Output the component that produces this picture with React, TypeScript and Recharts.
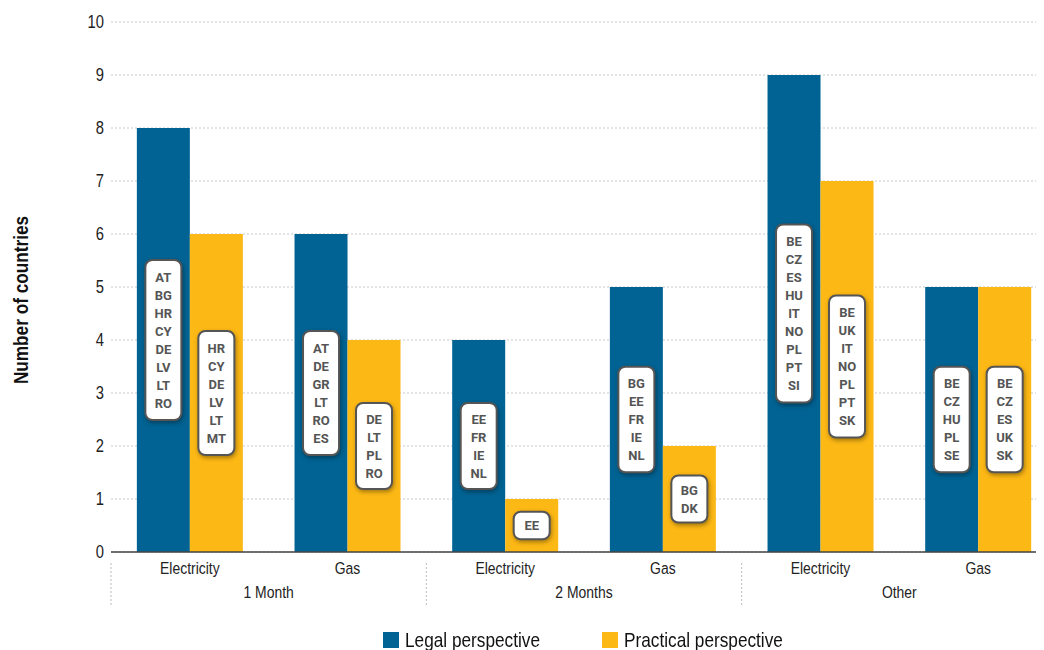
import React from "react";
import { BarChart, Bar, XAxis, YAxis, CartesianGrid, LabelList, Label, Legend } from "recharts";

const categories = ["Electricity", "Gas", "Electricity", "Gas", "Electricity", "Gas"];
const groups = ["1 Month", "1 Month", "2 Months", "2 Months", "Other", "Other"];
const legalValues = [8, 6, 4, 5, 9, 5];
const practicalValues = [6, 4, 1, 2, 7, 5];
const legalCountries = [
  ["AT", "BG", "HR", "CY", "DE", "LV", "LT", "RO"],
  ["AT", "DE", "GR", "LT", "RO", "ES"],
  ["EE", "FR", "IE", "NL"],
  ["BG", "EE", "FR", "IE", "NL"],
  ["BE", "CZ", "ES", "HU", "IT", "NO", "PL", "PT", "SI"],
  ["BE", "CZ", "HU", "PL", "SE"],
];
const practicalCountries = [
  ["HR", "CY", "DE", "LV", "LT", "MT"],
  ["DE", "LT", "PL", "RO"],
  ["EE"],
  ["BG", "DK"],
  ["BE", "UK", "IT", "NO", "PL", "PT", "SK"],
  ["BE", "CZ", "ES", "UK", "SK"],
];
const yTicks = [0, 1, 2, 3, 4, 5, 6, 7, 8, 9, 10];

const data = categories.map((c, i) => ({
  category: c,
  group: groups[i],
  legal: legalValues[i],
  practical: practicalValues[i],
}));

const W = 1060;
const H = 660;
const MARGIN = { top: 14, right: 11, left: 0, bottom: 0 };
const Y_WIDTH = 103;
const BAND = (W - MARGIN.left - MARGIN.right - Y_WIDTH) / categories.length;

const FONT = "'Liberation Sans', Arial, sans-serif";
const NARROW = 0.82;
const BLUE = "#006393";
const YELLOW = "#FCB815";

const NarrowText = ({ x, y, anchor, size, weight, children, fill }: any) => (
  <g transform={`translate(${x},${y}) scale(${NARROW},1)`}>
    <text x={0} y={0} textAnchor={anchor} fontFamily={FONT} fontSize={size} fontWeight={weight || 400} fill={fill || "#222"}>
      {children}
    </text>
  </g>
);

const makeCountryLabel = (lists: string[][]) => (props: any) => {
  const { x, y, width, height, index } = props;
  const items = lists[index] || [];
  const n = items.length;
  const lineH = 18;
  const boxH = lineH * n + Math.min(16, 8 + n * 1.5);
  const boxW = 36;
  const cx = Number(x) + Number(width) / 2;
  const cy = Number(y) + Number(height) / 2;
  const top = cy - boxH / 2;
  return (
    <g>
      <rect
        x={cx - boxW / 2}
        y={top}
        width={boxW}
        height={boxH}
        rx={7}
        ry={7}
        fill="#ffffff"
        stroke="#555555"
        strokeWidth={2}
        style={{ filter: "drop-shadow(1px 2px 2px rgba(0,0,0,0.35))" }}
      />
      {items.map((t, k) => (
        <text
          key={k}
          x={cx}
          y={cy - ((n - 1) * lineH) / 2 + k * lineH}
          textAnchor="middle"
          dominantBaseline="central"
          fontFamily="Roboto, 'Liberation Sans', Arial, sans-serif"
          fontWeight={700}
          fontSize={13}
          fill="#555555"
        >
          {t}
        </text>
      ))}
    </g>
  );
};

const CategoryTick = (props: any) => {
  const { x, y, payload } = props;
  return (
    <NarrowText x={x} y={y + 14} anchor="middle" size={17}>
      {payload.value}
    </NarrowText>
  );
};

const GroupTick = (props: any) => {
  const { x, y, payload, index } = props;
  const left = x - BAND / 2;
  if (index % 2 === 0) {
    return (
      <line x1={left} x2={left} y1={y - 21} y2={y + 22} stroke="#bbbbbb" strokeWidth={1} strokeDasharray="2 2" />
    );
  }
  return (
    <NarrowText x={left} y={y + 14} anchor="middle" size={17}>
      {payload.value}
    </NarrowText>
  );
};

const YTick = (props: any) => {
  const { x, y, payload } = props;
  return (
    <NarrowText x={x + 1} y={y + 6} anchor="end" size={18}>
      {payload.value}
    </NarrowText>
  );
};

const YLabel = () => (
  <g transform="translate(20,292) rotate(-90)">
    <NarrowText x={0} y={0} anchor="middle" size={21} weight={700} fill="#111">
      Number of countries
    </NarrowText>
  </g>
);

const LegendContent = () => {
  const items = [
    { label: "Legal perspective", color: BLUE },
    { label: "Practical perspective", color: YELLOW },
  ];
  return (
    <div style={{ height: 66, position: "relative", fontFamily: FONT }}>
      <div style={{ position: "absolute", left: 375, top: 30, display: "flex", alignItems: "center" }}>
        {items.map((it) => (
          <div key={it.label} style={{ display: "flex", alignItems: "center", width: it === items[0] ? 219 : 200 }}>
            <span style={{ width: 16, height: 16, background: it.color, display: "inline-block", marginRight: 6, flex: "none" }} />
            <span
              style={{
                fontSize: 21,
                color: "#111",
                lineHeight: "16px",
                display: "inline-block",
                transform: `scaleX(${NARROW})`,
                transformOrigin: "left center",
                whiteSpace: "nowrap",
              }}
            >
              {it.label}
            </span>
          </div>
        ))}
      </div>
    </div>
  );
};

export default function App() {
  return (
    <div style={{ width: 1036, height: 642, overflow: "hidden" }}>
      <BarChart width={W} height={H} data={data} margin={MARGIN} barCategoryGap="16.4%" barGap={0}>
        <CartesianGrid horizontal={true} vertical={false} stroke="#c8c8c8" strokeDasharray="2 2" />
        <XAxis
          dataKey="category"
          height={24}
          tickLine={false}
          axisLine={{ stroke: "#444", strokeWidth: 1.5 }}
          tick={<CategoryTick />}
          interval={0}
        />
        <XAxis
          xAxisId="g"
          dataKey="group"
          height={26}
          tickLine={false}
          axisLine={false}
          tick={<GroupTick />}
          interval={0}
        />
        <YAxis
          width={Y_WIDTH}
          domain={[0, 10]}
          ticks={yTicks}
          interval={0}
          axisLine={false}
          tickLine={false}
          tick={<YTick />}
        >
          <Label content={<YLabel />} />
        </YAxis>
        <Legend verticalAlign="bottom" content={<LegendContent />} />
        <Bar dataKey="legal" name="Legal perspective" fill={BLUE} isAnimationActive={false}>
          <LabelList dataKey="legal" content={makeCountryLabel(legalCountries)} />
        </Bar>
        <Bar dataKey="practical" name="Practical perspective" fill={YELLOW} isAnimationActive={false}>
          <LabelList dataKey="practical" content={makeCountryLabel(practicalCountries)} />
        </Bar>
      </BarChart>
    </div>
  );
}
